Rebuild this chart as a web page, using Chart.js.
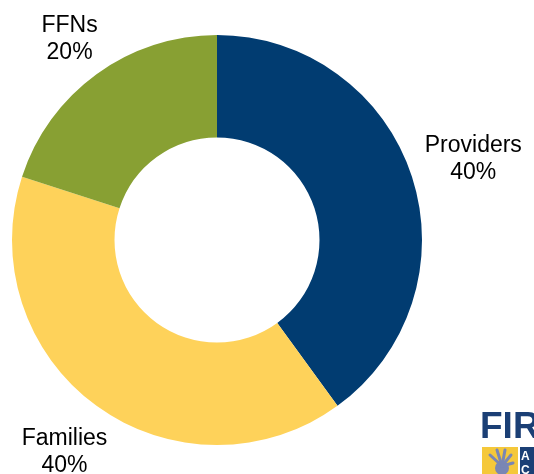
<!DOCTYPE html>
<html>
<head>
<meta charset="utf-8">
<script src="https://cdn.jsdelivr.net/npm/chart.js@4"></script>
<style>
  body { margin: 0; background: #fff; }
  #wrap { position: relative; width: 534px; height: 474px; }
</style>
</head>
<body>
<div id="wrap"><canvas id="myChart"></canvas></div>
<script>
var labels = ['Providers', 'Families', 'FFNs'];
var shares = [40, 40, 20];
var colors = ['#013C71', '#FED25A', '#88A033'];

// draws "Name / NN%" just outside each slice
var outsideLabels = {
  id: 'outsideLabels',
  afterDatasetsDraw: function (chart) {
    var ctx = chart.ctx;
    var meta = chart.getDatasetMeta(0);
    ctx.save();
    ctx.font = '23px "Liberation Sans", Arial, sans-serif';
    ctx.fillStyle = '#000';
    ctx.textAlign = 'center';
    ctx.textBaseline = 'alphabetic';
    meta.data.forEach(function (arc, i) {
      var lines = [labels[i], shares[i] + '%'];
      var w = Math.max(ctx.measureText(lines[0]).width, ctx.measureText(lines[1]).width) / 2;
      var h = 22;
      var a = (arc.startAngle + arc.endAngle) / 2;
      var c = Math.cos(a), s = Math.sin(a);
      var d = arc.outerRadius + 11.5 + w * Math.abs(c) + h * Math.abs(s);
      var cx = arc.x + c * d, cy = arc.y + s * d;
      ctx.fillText(lines[0], cx, cy - h + 17);
      ctx.fillText(lines[1], cx, cy - h + 17 + 27);
    });
    ctx.restore();
  }
};

// cut-off logo in the lower right corner
var logo = {
  id: 'logo',
  afterDraw: function (chart) {
    var ctx = chart.ctx;
    ctx.save();
    ctx.fillStyle = '#1B3F75';
    ctx.font = 'bold 37px "Liberation Sans", Arial, sans-serif';
    ctx.textBaseline = 'alphabetic';
    ctx.fillText('FIR', 480, 438);
    ctx.fillStyle = '#F5C83A';
    ctx.fillRect(482, 447, 36, 27);
    ctx.fillStyle = '#1B3F75';
    ctx.fillRect(520, 447, 14, 27);
    ctx.fillStyle = '#fff';
    ctx.font = 'bold 12px "Liberation Sans", Arial, sans-serif';
    ctx.fillText('A', 521, 460);
    ctx.fillText('C', 521, 474);
    // hand
    ctx.strokeStyle = '#7A86B4';
    ctx.fillStyle = '#7A86B4';
    ctx.lineCap = 'round';
    ctx.lineWidth = 3;
    ctx.beginPath();
    ctx.arc(502, 468, 7, 0, Math.PI * 2);
    ctx.fill();
    [[490, 455], [497, 450], [505, 450], [511, 455], [513, 463]].forEach(function (p) {
      ctx.beginPath();
      ctx.moveTo(502, 466);
      ctx.lineTo(p[0], p[1]);
      ctx.stroke();
    });
    ctx.restore();
  }
};

new Chart(document.getElementById('myChart').getContext('2d'), {
  type: 'doughnut',
  data: {
    labels: labels,
    datasets: [{
      data: shares,
      backgroundColor: colors,
      borderWidth: 0
    }]
  },
  options: {
    responsive: true,
    maintainAspectRatio: false,
    animation: false,
    cutout: '50%',
    layout: { padding: { left: 12, right: 112, top: 35, bottom: 29 } },
    plugins: {
      legend: { display: false },
      tooltip: { enabled: false }
    }
  },
  plugins: [outsideLabels, logo]
});
</script>
</body>
</html>
